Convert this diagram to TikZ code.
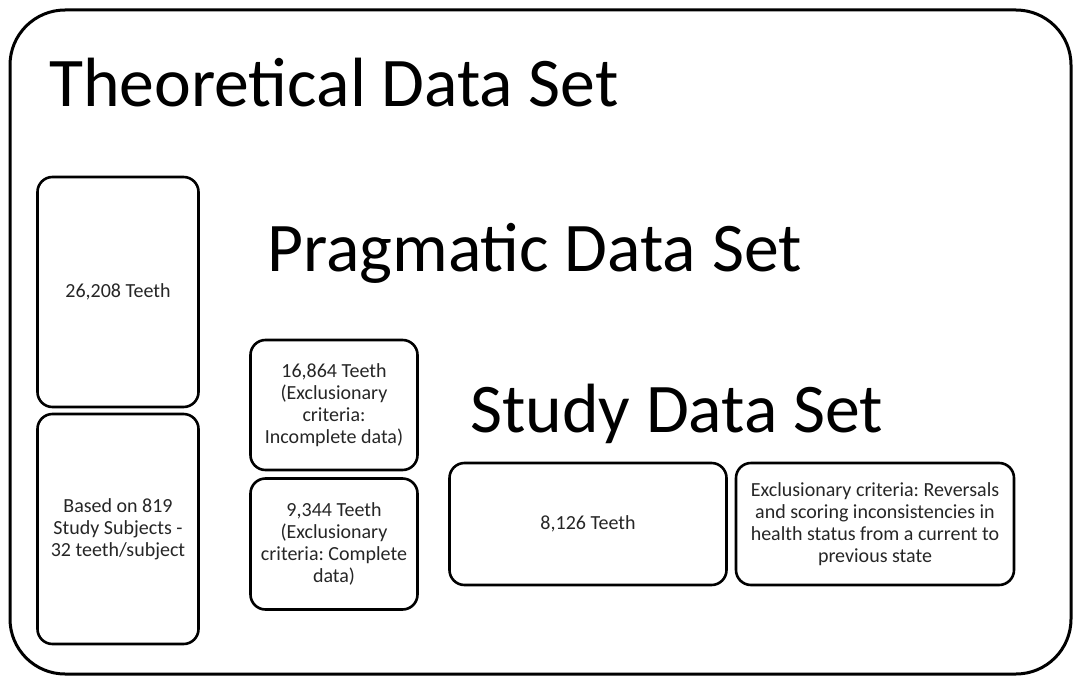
\documentclass[tikz,border=0pt]{standalone}
\usepackage{fontspec}
\setmainfont{Carlito}
\usepackage{tikz}
\frenchspacing

\tikzset{
  setbox/.style={draw, line width=2.6pt, rounded corners=15pt, align=center,
    inner sep=4pt, text=black!85, font=\fontsize{20}{21.8}\selectfont},
  settitle/.style={anchor=base west, inner sep=0pt, font=\fontsize{69.7}{80}\selectfont},
}

\begin{document}
\begin{tikzpicture}[x=1pt,y=-1pt]
  \useasboundingbox (0,0) rectangle (1073,677);

  % Draw outer frame
  \draw[line width=3pt, rounded corners=55pt] (10,10) rectangle (1071,674);

  % Titles of the nested sets
  \node[settitle] (theotitle) at (49,106) {Theoretical Data Set};
  \node[settitle] (pragtitle) at (267,271) {Pragmatic Data Set};
  \node[settitle] (studytitle) at (470,432) {Study Data Set};

  % Theoretical set
  \node[setbox, minimum width=161pt, minimum height=230pt] (theoteeth) at (118,292) {26,208 Teeth};
  \node[setbox, minimum width=161pt, minimum height=230pt] (theosubj) at (118,529)
    {Based on 819\\Study Subjects -\\32 teeth/subject};

  % Pragmatic set
  \node[setbox, minimum width=167pt, minimum height=130pt] (pragincomp) at (334,405)
    {16,864 Teeth\\(Exclusionary\\criteria:\\Incomplete data)};
  \node[setbox, minimum width=167pt, minimum height=131pt] (pragcomp) at (334,544)
    {9,344 Teeth\\(Exclusionary\\criteria: Complete\\data)};

  % Study set
  \node[setbox, minimum width=277pt, minimum height=122pt] (studyteeth) at (588,524) {8,126 Teeth};
  \node[setbox, minimum width=278pt, minimum height=122pt] (studyexcl) at (875,524)
    {Exclusionary criteria: Reversals\\and scoring inconsistencies in\\health status from a current to\\previous state};
\end{tikzpicture}
\end{document}
